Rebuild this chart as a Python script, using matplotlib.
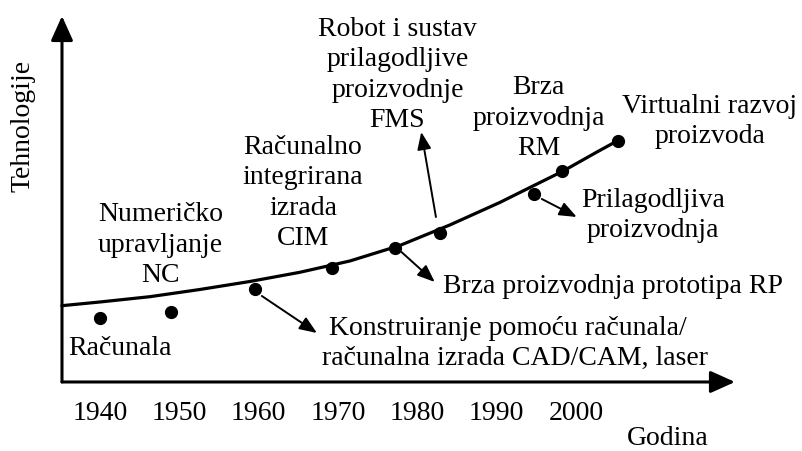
import matplotlib
matplotlib.use('Agg')
import matplotlib.pyplot as plt

plt.rcParams['font.family'] = 'Liberation Serif'
plt.rcParams['font.size'] = 20

# tocke (godina, razina tehnologije)
point_years = [1940, 1949, 1959.6, 1969.3, 1977.2, 1982.9, 1994.7, 1998.2, 2005.3]
point_levels = [6.4, 7.0, 9.3, 11.4, 13.4, 14.9, 18.8, 21.1, 24.1]

# krivulja razvoja
curve_years = [1935.2, 1940, 1946.3, 1952.6, 1958.9, 1965.2, 1971.5, 1977.8,
               1984.1, 1990.4, 1994.2, 1998.4, 2002.65, 2005.3]
curve_levels = [7.63, 8.0, 8.53, 9.25, 10.05, 10.97, 12.1, 13.65,
                15.7, 17.95, 19.45, 21.1, 23.0, 24.15]

tick_years = [1940, 1950, 1960, 1970, 1980, 1990, 2000]
tick_labels = ['1940', '1950', '1960', '1970', '1980', '1990', '2000']

labels = ['Računala',
          'Numeričko\nupravljanje\nNC',
          'Računalno\nintegrirana\nizrada\nCIM',
          'Robot i sustav\nprilagodljive\nproizvodnje\nFMS',
          'Brza\nproizvodnja\nRM',
          'Virtualni razvoj\nproizvoda',
          'Prilagodljiva\nproizvodnja',
          'Brza proizvodnja prototipa RP',
          ' Konstruiranje pomoću računala/\nračunalna izrada CAD/CAM, laser']
label_x = [1942.5, 1947.6, 1965.6, 1977.5, 1995.3, 2016.9, 2009.7, 1983.2, 1968.0]
# baseline zadnjeg retka
label_y = [2.8, 10.1, 13.8, 25.6, 22.8, 24.0, 14.6, 9.0, 1.8]
label_ha = ['center', 'center', 'center', 'center', 'center', 'center', 'center', 'left', 'left']

# strelice (od, do)
arrow_from = [(1960.4, 8.6), (1978.0, 13.0), (1982.35, 16.5), (1995.7, 18.3)]
arrow_to = [(1967.35, 4.9), (1982.2, 10.0), (1980.5, 25.0), (2000.1, 16.5)]

fig = plt.figure(figsize=(8.03, 4.52), dpi=100)
ax = fig.add_axes([0.0772, 0.1527, 0.8381, 0.8097])
ax.set_xlim(1935.21, 2020.05)
ax.set_ylim(0, 36.6)
for s in ax.spines.values():
    s.set_visible(False)

# osi sa strelicama
for tip in [(1, 0), (0, 1)]:
    ax.annotate('', xy=tip, xytext=(0, 0), xycoords='axes fraction',
                arrowprops=dict(arrowstyle='-|>,head_length=1.0,head_width=0.45',
                                mutation_scale=15, lw=2.2, color='k',
                                shrinkA=0, shrinkB=0))

ax.plot(curve_years, curve_levels, color='k', lw=2.3, solid_capstyle='round',
        solid_joinstyle='round', clip_on=False)
ax.plot(point_years, point_levels, 'o', color='k', ms=8.5, clip_on=False)

for a, b in zip(arrow_from, arrow_to):
    ax.annotate('', xy=b, xytext=a,
                arrowprops=dict(arrowstyle='-|>,head_length=1.05,head_width=0.42',
                                mutation_scale=10, lw=1.4, color='k',
                                shrinkA=0, shrinkB=0))

for t, x, y, ha in zip(labels, label_x, label_y, label_ha):
    ax.text(x, y, t, ha=ha, va='baseline', multialignment=ha, linespacing=1.28)

ax.set_xticks(tick_years)
ax.set_xticklabels(tick_labels)
ax.set_yticks([])
ax.tick_params(axis='x', length=0, pad=13)

ax.text(2011.6, -6.2, 'Godina', ha='center', va='baseline')
ax.text(1930.3, 25.7, 'Tehnologije', ha='center', va='center', rotation=90)

fig.savefig('out.png', dpi=100)
